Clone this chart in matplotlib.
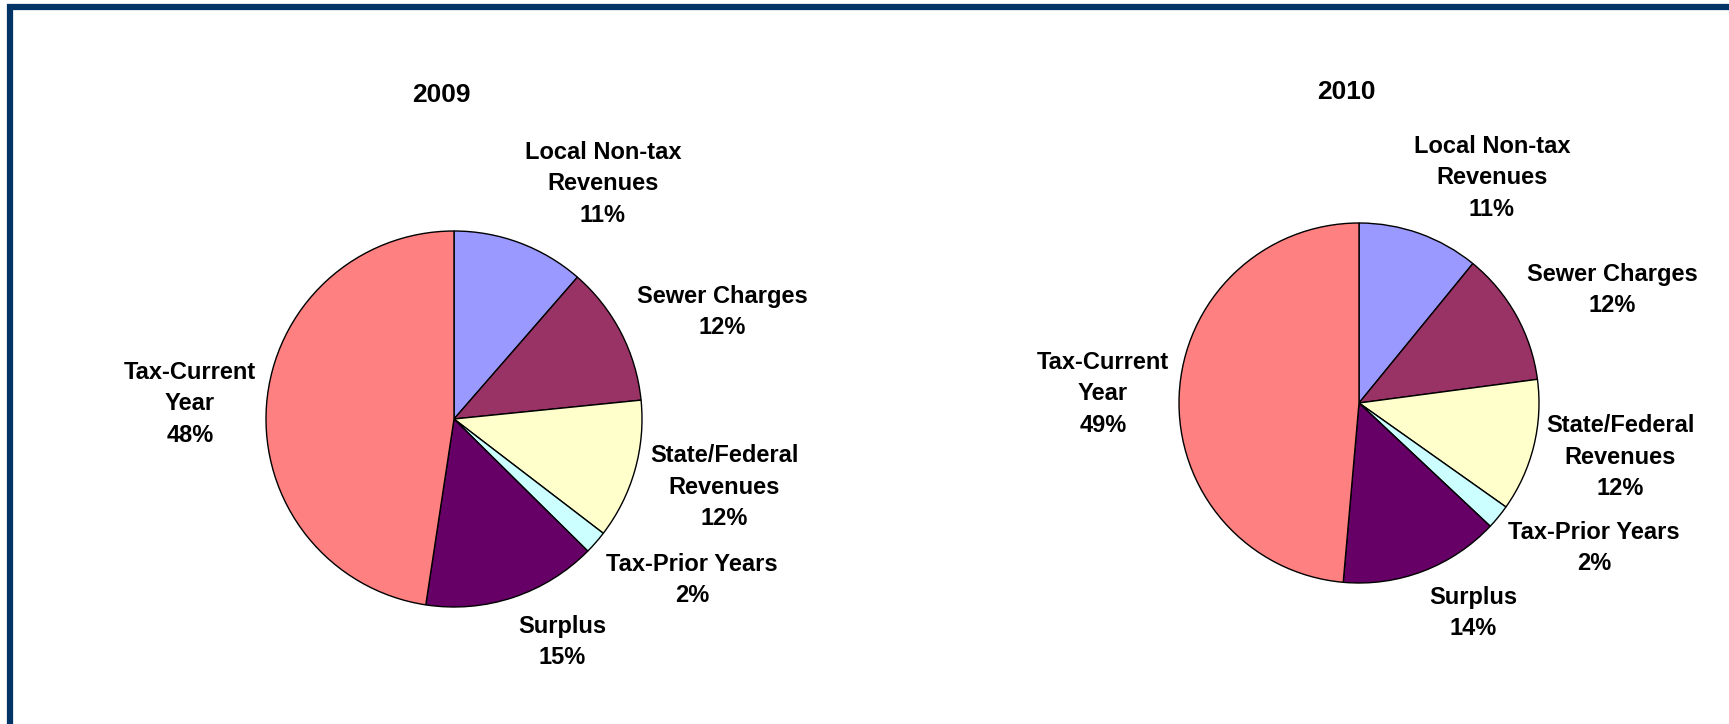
import matplotlib.pyplot as plt
from matplotlib.patches import Rectangle

# Revenue shares (%) (slice angles, consistent with labels)
categories = ['Local Non-tax\nRevenues', 'Sewer Charges', 'State/Federal\nRevenues',
              'Tax-Prior Years', 'Surplus', 'Tax-Current\nYear']
shares_2009 = [11.4, 12.0, 12.0, 2.0, 15.0, 47.6]
shares_2010 = [10.9, 12.0, 11.9, 2.2, 14.4, 48.6]
years = ['2009', '2010']

colors = ['#9999FF', '#993366', '#FFFFCC', '#CCFFFF', '#660066', '#FF8080']

W, H = 1729, 724

# layout (pixel coords, y measured from top)
pie_layout = {
    '2009': dict(center=(454, 419), radius=188, title=(441, 95),
                 labels=[(603, 184), (722, 312), (724, 487), (692, 580), (562, 642), (190, 404)]),
    '2010': dict(center=(1359, 403), radius=180, title=(1346, 92),
                 labels=[(1492, 178), (1612, 290), (1620, 457), (1594, 548), (1473, 613), (1103, 394)]),
}

plt.rcParams['font.family'] = ['Liberation Sans', 'DejaVu Sans']

fig = plt.figure(figsize=(W / 100, H / 100), dpi=100)
ax = fig.add_axes([0, 0, 1, 1])


def draw_year(year, shares):
    lay = pie_layout[year]
    cx, cy = lay['center']
    ax.pie(shares, colors=colors, startangle=90, counterclock=False,
           center=(cx, H - cy), radius=lay['radius'],
           wedgeprops=dict(edgecolor='black', linewidth=1.0))
    tx, ty = lay['title']
    ax.text(tx, H - ty, year, ha='center', va='center', fontsize=19, fontweight='bold')
    for cat, val, (lx, ly) in zip(categories, shares, lay['labels']):
        ax.text(lx, H - ly, f'{cat}\n{val:.0f}%', ha='center', va='center',
                fontsize=17, fontweight='bold', linespacing=1.47)


draw_year('2009', shares_2009)
draw_year('2010', shares_2010)

ax.set_xlim(0, W)
ax.set_ylim(0, H)
ax.set_aspect('equal')
ax.axis('off')

# dark blue frame (only top and left edges fall inside the picture)
ax.add_patch(Rectangle((10, -20), W + 20, H - 7 + 20, fill=False,
                       edgecolor='#003366', linewidth=4.5, clip_on=False))

fig.savefig('out.png', dpi=100)
